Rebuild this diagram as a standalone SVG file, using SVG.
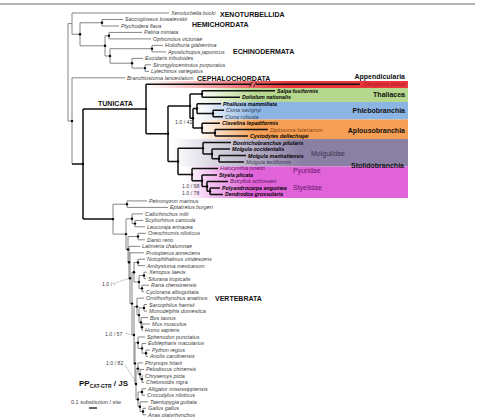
<svg xmlns="http://www.w3.org/2000/svg" width="477" height="417" viewBox="0 0 477 417">
<defs>
<style>
.g{fill:none;stroke:#858585;stroke-width:1}
.k{fill:none;stroke:#111;stroke-width:1.5}
.d{fill:none;stroke:#777;stroke-width:0.6;stroke-dasharray:1.5,1}
.t{font-family:"Liberation Sans",Arial,sans-serif;font-style:italic;font-size:5.4px;fill:#404040}
.tb{font-family:"Liberation Sans",Arial,sans-serif;font-style:italic;font-weight:bold;font-size:5.3px;fill:#000}
.c{font-family:"Liberation Sans",Arial,sans-serif;font-weight:bold;font-size:7px;fill:#111}
.f{font-family:"Liberation Sans",Arial,sans-serif;font-size:7px}
.n{font-family:"Liberation Sans",Arial,sans-serif;font-size:5.2px;fill:#444}
.dot circle{fill:#000}
</style>
<linearGradient id="gR" gradientUnits="userSpaceOnUse" x1="146" y1="0" x2="285" y2="0"><stop offset="0" stop-color="#e8363c" stop-opacity="0"/><stop offset="1" stop-color="#e8363c"/></linearGradient>
<linearGradient id="gG" gradientUnits="userSpaceOnUse" x1="198" y1="0" x2="255" y2="0"><stop offset="0" stop-color="#b6d88e" stop-opacity="0"/><stop offset="1" stop-color="#b6d88e"/></linearGradient>
<linearGradient id="gB" gradientUnits="userSpaceOnUse" x1="198" y1="0" x2="255" y2="0"><stop offset="0" stop-color="#8db5e3" stop-opacity="0"/><stop offset="1" stop-color="#8db5e3"/></linearGradient>
<linearGradient id="gO" gradientUnits="userSpaceOnUse" x1="198" y1="0" x2="255" y2="0"><stop offset="0" stop-color="#f7a055" stop-opacity="0"/><stop offset="1" stop-color="#f7a055"/></linearGradient>
<linearGradient id="gP" gradientUnits="userSpaceOnUse" x1="172" y1="0" x2="300" y2="0"><stop offset="0" stop-color="#8a80a4" stop-opacity="0"/><stop offset="1" stop-color="#8a80a4"/></linearGradient>
<linearGradient id="gM" gradientUnits="userSpaceOnUse" x1="186" y1="0" x2="250" y2="0"><stop offset="0" stop-color="#e064d8" stop-opacity="0"/><stop offset="1" stop-color="#e064d8"/></linearGradient>
</defs>
<rect width="477" height="417" fill="#fff"/>
<line x1="0" y1="4" x2="475" y2="4" stroke="#666" stroke-width="1"/>
<g id="bands">
<rect x="146" y="81" width="262" height="7" fill="url(#gR)"/>
<rect x="198" y="88" width="210" height="14" fill="url(#gG)"/>
<rect x="198" y="102" width="210" height="17.5" fill="url(#gB)"/>
<rect x="198" y="119.5" width="210" height="19.5" fill="url(#gO)"/>
<rect x="172" y="139" width="236" height="27.5" fill="url(#gP)"/>
<rect x="186" y="166.5" width="222" height="31.5" fill="url(#gM)"/>
</g>
<g id="connectors">
<path class="g" d="M68,23.6V121M68,23.6H72M68,121H72M72,13V34.3M72,13H169M72,34.3H80M80,22.75V45.8M80,22.75H102M80,45.8H105M102,19.5V26M102,19.5H123M102,26H119M105,35.7V56M105,35.7H109M105,56H110M109,32.4V38.9M109,32.4H142M109,38.9H151M110,48.7V63.2M110,48.7H152M110,63.2H132M152,45.4V51.9M152,45.4H163M152,51.9H166M132,58.4V68.1M132,58.4H143M132,68.1H145M145,64.8V71.3M145,64.8H151M145,71.3H149M72,77.8V164M72,77.8H125"/>
<path class="k" d="M72,164H83M83,109V219.1M83,109H146M83,219.1H113"/>
<path class="g" d="M113,204.2V234.1M113,204.2H127M113,234.1H126M127,200.9V207.4M127,200.9H147M127,207.4H168M126,218.8V249.4M126,218.8H132M126,249.4H128M132,213.9V223.6M132,213.9H143M132,223.6H135M135,220.4V226.8M135,220.4H143M135,226.8H145M128,236.5V262.3M128,236.5H138M128,262.3H129M138,233.3V239.8M138,233.3H146M138,239.8H145M129,246.3V278.2M129,246.3H140M129,278.2H130M130,252.8V303.6M130,252.8H144M130,303.6H132M132,272.2V335M132,272.2H134M132,335H134M134,262.5V282M134,262.5H138M134,282H139M138,259.2V265.7M138,259.2H145M138,265.7H145M139,275.5V288.4M139,275.5H144M139,288.4H142M144,272.2V278.7M144,272.2H147M144,278.7H146M142,285.2V291.6M142,285.2H149M142,291.6H144M134,306.6V363.4M134,306.6H137M134,363.4H135M137,298.1V315.1M137,298.1H144M137,315.1H139M139,307.9V322.4M139,307.9H144M139,322.4H141M144,304.6V311.1M144,304.6H147M144,311.1H147M141,317.6V327.3M141,317.6H148M141,327.3H142M142,324V330.5M142,324H150M142,330.5H143M135,342.7V384M135,342.7H138M135,384H136M138,337V348.4M138,337H145M138,348.4H142M142,343.5V353.2M142,343.5H146M142,353.2H146M146,350V356.4M146,350H150M146,356.4H148M136,368.6V399.4M136,368.6H138M136,399.4H138M138,362.9V374.3M138,362.9H143M138,374.3H140M140,369.4V379.1M140,369.4H144M140,379.1H142M142,375.9V382.4M142,375.9H143M142,382.4H144M138,392V406.7M138,392H142M138,406.7H140M142,388.8V395.3M142,388.8H146M142,395.3H145M140,401.8V411.5M140,401.8H148M140,411.5H143M143,408.3V414.8M143,408.3H146M143,414.8H146"/>
<path class="k" d="M146,84.3V133.7M146,84.3H251M256,84.3H360M146,133.7H168M168,106V161.5M168,106H190M168,161.5H178M190,94V118.3M190,94H202M190,118.3H193M202,90.8V97.2M202,90.8H275M202,97.2H240M193,108.6V128M193,108.6H197M193,128H202M197,103.7V113.5M197,103.7H221M197,113.5H213M213,110.2V116.7M213,110.2H224M213,116.7H223M202,123.2V132.9M202,123.2H220M202,132.9H215M215,129.6V136.1M215,129.6H268M215,136.1H248M178,148.3V174.6M178,148.3H203M178,174.6H192M203,142.6V154M203,142.6H231M203,154H212M212,149.1V158.8M212,149.1H230M212,158.8H219M219,155.6V162M219,155.6H246M219,162H244M192,168.5V180.7M192,168.5H218M192,180.7H202M202,175V186.4M202,175H217M202,186.4H207M207,181.5V191.2M207,181.5H228M207,191.2H210M210,188V194.4M210,188H220M210,194.4H223"/>
<path fill="none" stroke="#111" stroke-width="0.8" d="M249.5,86.8L252.5,81.8M253.5,86.8L256.5,81.8"/>
<path class="d" d="M113,283.5L129,278.6M126,333.5L133.5,335M125,365L136,382"/>
<line x1="89" y1="408" x2="97" y2="408" stroke="#333" stroke-width="1.5"/>
</g>
<g id="node-dots" class="dot">
<circle cx="80" cy="34.3" r="1.2"/><circle cx="102" cy="22.75" r="1.2"/><circle cx="105" cy="45.8" r="1.2"/><circle cx="109" cy="35.7" r="1.2"/><circle cx="110" cy="56" r="1.2"/><circle cx="152" cy="48.7" r="1.2"/><circle cx="132" cy="63.2" r="1.2"/><circle cx="145" cy="68.1" r="1.2"/><circle cx="72" cy="121" r="1.2"/><circle cx="83" cy="164" r="1.2"/>
<circle cx="146" cy="109" r="1.2"/><circle cx="168" cy="133.7" r="1.2"/><circle cx="190" cy="106" r="1.2"/><circle cx="202" cy="94" r="1.2"/><circle cx="193" cy="118.3" r="1.2"/><circle cx="197" cy="108.6" r="1.2"/><circle cx="213" cy="113.5" r="1.2"/><circle cx="202" cy="128" r="1.2"/><circle cx="215" cy="132.9" r="1.2"/><circle cx="178" cy="161.5" r="1.2"/><circle cx="203" cy="148.3" r="1.2"/><circle cx="212" cy="154" r="1.2"/><circle cx="219" cy="158.8" r="1.2"/><circle cx="192" cy="174.6" r="1.2"/><circle cx="202" cy="180.7" r="1.2"/><circle cx="207" cy="186.4" r="1.2"/><circle cx="210" cy="191.2" r="1.2"/>
<circle cx="113" cy="219.1" r="1.2"/><circle cx="127" cy="204.2" r="1.2"/><circle cx="126" cy="234.1" r="1.2"/><circle cx="132" cy="218.8" r="1.2"/><circle cx="135" cy="223.6" r="1.2"/><circle cx="128" cy="249.4" r="1.2"/><circle cx="138" cy="236.5" r="1.2"/><circle cx="129" cy="262.3" r="1.2"/><circle cx="130" cy="278.2" r="1.2"/><circle cx="132" cy="303.6" r="1.2"/><circle cx="134" cy="272.2" r="1.2"/><circle cx="138" cy="262.5" r="1.2"/><circle cx="139" cy="282" r="1.2"/><circle cx="144" cy="275.5" r="1.2"/><circle cx="142" cy="288.4" r="1.2"/><circle cx="134" cy="335" r="1.2"/><circle cx="137" cy="306.6" r="1.2"/><circle cx="139" cy="315.1" r="1.2"/><circle cx="144" cy="307.9" r="1.2"/><circle cx="141" cy="322.4" r="1.2"/><circle cx="142" cy="327.3" r="1.2"/><circle cx="135" cy="363.4" r="1.2"/><circle cx="138" cy="342.7" r="1.2"/><circle cx="142" cy="348.4" r="1.2"/><circle cx="146" cy="353.2" r="1.2"/><circle cx="136" cy="384" r="1.2"/><circle cx="138" cy="368.6" r="1.2"/><circle cx="140" cy="374.3" r="1.2"/><circle cx="142" cy="379.1" r="1.2"/><circle cx="138" cy="399.4" r="1.2"/><circle cx="142" cy="392" r="1.2"/><circle cx="140" cy="406.7" r="1.2"/><circle cx="143" cy="411.5" r="1.2"/>
</g>
<g id="taxa">
<g id="t01"><text class="t" x="171" y="14.9">Xenoturbella bocki</text></g>
<g id="t02"><text class="t" x="125" y="21.4">Saccoglossus kowalevskii</text></g>
<g id="t03"><text class="t" x="121" y="27.9">Ptychodera flava</text></g>
<g id="t04"><text class="t" x="144" y="34.3">Patiria miniata</text></g>
<g id="t05"><text class="t" x="153" y="40.8">Ophionotus victoriae</text></g>
<g id="t06"><text class="t" x="165" y="47.3">Holothuria glaberrima</text></g>
<g id="t07"><text class="t" x="168" y="53.8">Apostichopus japonicus</text></g>
<g id="t08"><text class="t" x="145" y="60.3">Eucidaris tribuloides</text></g>
<g id="t09"><text class="t" x="153" y="66.7">Strongylocentrotus purpuratus</text></g>
<g id="t10"><text class="t" x="151" y="73.2">Lytechinus variegatus</text></g>
<g id="t11"><text class="t" x="127" y="79.7">Branchiostoma lanceolatum</text></g>
<g id="t12"><text class="t" x="363" y="86.2" style="fill:#a8141e">Oikopleura dioica</text></g>
<g id="t13"><text class="tb" x="277" y="92.7">Salpa fusiformis</text></g>
<g id="t14"><text class="tb" x="242" y="99.1">Doliolum nationalis</text></g>
<g id="t15"><text class="tb" x="223" y="105.6">Phallusia mammillata</text></g>
<g id="t16"><text class="t" x="226" y="112.1" style="fill:#2c3e5c">Ciona savignyi</text></g>
<g id="t17"><text class="t" x="225" y="118.6" style="fill:#2c3e5c">Ciona robusta</text></g>
<g id="t18"><text class="tb" x="222" y="125.1">Clavelina lepadiformis</text></g>
<g id="t19"><text class="t" x="270" y="131.5" style="fill:#8a3a10">Diplosoma listerianum</text></g>
<g id="t20"><text class="tb" x="250" y="138">Cystodytes dellechiajei</text></g>
<g id="t21"><text class="tb" x="233" y="144.5">Bostrichobranchus pilularis</text></g>
<g id="t22"><text class="tb" x="232" y="151">Molgula occidentalis</text></g>
<g id="t23"><text class="tb" x="248" y="157.5">Molgula manhattensis</text></g>
<g id="t24"><text class="t" x="246" y="163.9" style="fill:#3c3450">Molgula tectiformis</text></g>
<g id="t25"><text class="t" x="220" y="170.4" style="fill:#6a1470">Halocynthia roretzi</text></g>
<g id="t26"><text class="tb" x="219" y="176.9">Styela plicata</text></g>
<g id="t27"><text class="t" x="230" y="183.4" style="fill:#5a1060">Botryllus schlosseri</text></g>
<g id="t28"><text class="tb" x="222" y="189.9">Polyandrocarpa anguinea</text></g>
<g id="t29"><text class="tb" x="225" y="196.3">Dendrodoa grossularia</text></g>
<g id="t30"><text class="t" x="149" y="202.8">Petromyzon marinus</text></g>
<g id="t31"><text class="t" x="170" y="209.3">Eptatretus burgeri</text></g>
<g id="t32"><text class="t" x="145" y="215.8">Callorhinchus milii</text></g>
<g id="t33"><text class="t" x="145" y="222.3">Scyliorhinus canicula</text></g>
<g id="t34"><text class="t" x="147" y="228.7">Leucoraja erinacea</text></g>
<g id="t35"><text class="t" x="148" y="235.2">Oreochromis niloticus</text></g>
<g id="t36"><text class="t" x="147" y="241.7">Danio rerio</text></g>
<g id="t37"><text class="t" x="142" y="248.2">Latimeria chalumnae</text></g>
<g id="t38"><text class="t" x="146" y="254.7">Protopterus annectens</text></g>
<g id="t39"><text class="t" x="147" y="261.1">Notophthalmus viridescens</text></g>
<g id="t40"><text class="t" x="147" y="267.6">Ambystoma mexicanum</text></g>
<g id="t41"><text class="t" x="149" y="274.1">Xenopus laevis</text></g>
<g id="t42"><text class="t" x="148" y="280.6">Silurana tropicalis</text></g>
<g id="t43"><text class="t" x="151" y="287.1">Rana chensinensis</text></g>
<g id="t44"><text class="t" x="146" y="293.5">Cyclorana alboguttata</text></g>
<g id="t45"><text class="t" x="146" y="300">Ornithorhynchus anatinus</text></g>
<g id="t46"><text class="t" x="149" y="306.5">Sarcophilus harrisii</text></g>
<g id="t47"><text class="t" x="149" y="313">Monodelphis domestica</text></g>
<g id="t48"><text class="t" x="150" y="319.5">Bos taurus</text></g>
<g id="t49"><text class="t" x="152" y="325.9">Mus musculus</text></g>
<g id="t50"><text class="t" x="145" y="332.4">Homo sapiens</text></g>
<g id="t51"><text class="t" x="147" y="338.9">Sphenodon punctatus</text></g>
<g id="t52"><text class="t" x="148" y="345.4">Eublepharis macularius</text></g>
<g id="t53"><text class="t" x="152" y="351.9">Python regius</text></g>
<g id="t54"><text class="t" x="150" y="358.3">Anolis carolinensis</text></g>
<g id="t55"><text class="t" x="145" y="364.8">Phrynops hilarii</text></g>
<g id="t56"><text class="t" x="146" y="371.3">Pelodiscus chinensis</text></g>
<g id="t57"><text class="t" x="145" y="377.8">Chrysemys picta</text></g>
<g id="t58"><text class="t" x="146" y="384.3">Chelonoidis nigra</text></g>
<g id="t59"><text class="t" x="148" y="390.7">Alligator mississippiensis</text></g>
<g id="t60"><text class="t" x="147" y="397.2">Crocodylus niloticus</text></g>
<g id="t61"><text class="t" x="150" y="403.7">Taeniopygia guttata</text></g>
<g id="t62"><text class="t" x="148" y="410.2">Gallus gallus</text></g>
<g id="t63"><text class="t" x="148" y="416.7">Anas platyrhynchos</text></g>
</g>
<g id="clades">
<text class="c" x="220" y="16.5">XENOTURBELLIDA</text>
<text class="c" x="192" y="26.5">HEMICHORDATA</text>
<text class="c" x="233" y="53.5">ECHINODERMATA</text>
<text class="c" x="197" y="80.5">CEPHALOCHORDATA</text>
<text class="c" x="98" y="105.5">TUNICATA</text>
<text class="c" x="215" y="300.5">VERTEBRATA</text>
<text class="c" x="405" y="78.5" text-anchor="end">Appendicularia</text>
<text class="c" x="405" y="96.5" text-anchor="end">Thaliacea</text>
<text class="c" x="405" y="112.5" text-anchor="end">Phlebobranchia</text>
<text class="c" x="405" y="132.5" text-anchor="end">Aplousobranchia</text>
<text class="c" x="404" y="167.5" text-anchor="end">Stolidobranchia</text>
<text class="f" x="311" y="155.5" fill="#3a3350">Molgulidae</text>
<text class="f" x="293" y="172.5" fill="#6a1470">Pyuridae</text>
<text class="f" x="293" y="189.5" fill="#6a1470">Styelidae</text>
</g>
<g id="support">
<text class="n" x="175" y="124.4">1.0 / 42</text>
<text class="n" x="182" y="187.9">1.0 / 98</text>
<text class="n" x="182" y="194.9">1.0 / 78</text>
<text class="n" x="102" y="285.9">1.0 / -</text>
<text class="n" x="105" y="335.9">1.0 / 57</text>
<text class="n" x="106" y="364.9">1.0 / 82</text>
</g>
<g id="legend">
<text class="c" x="79" y="386" style="font-size:8px">PP<tspan style="font-size:5px" dy="2">CAT-GTR</tspan><tspan dy="-2" style="font-size:8px"> / JS</tspan></text>
<text class="n" x="71" y="404" style="font-size:5.5px">0.1 substitution / site</text>
</g>
</svg>
